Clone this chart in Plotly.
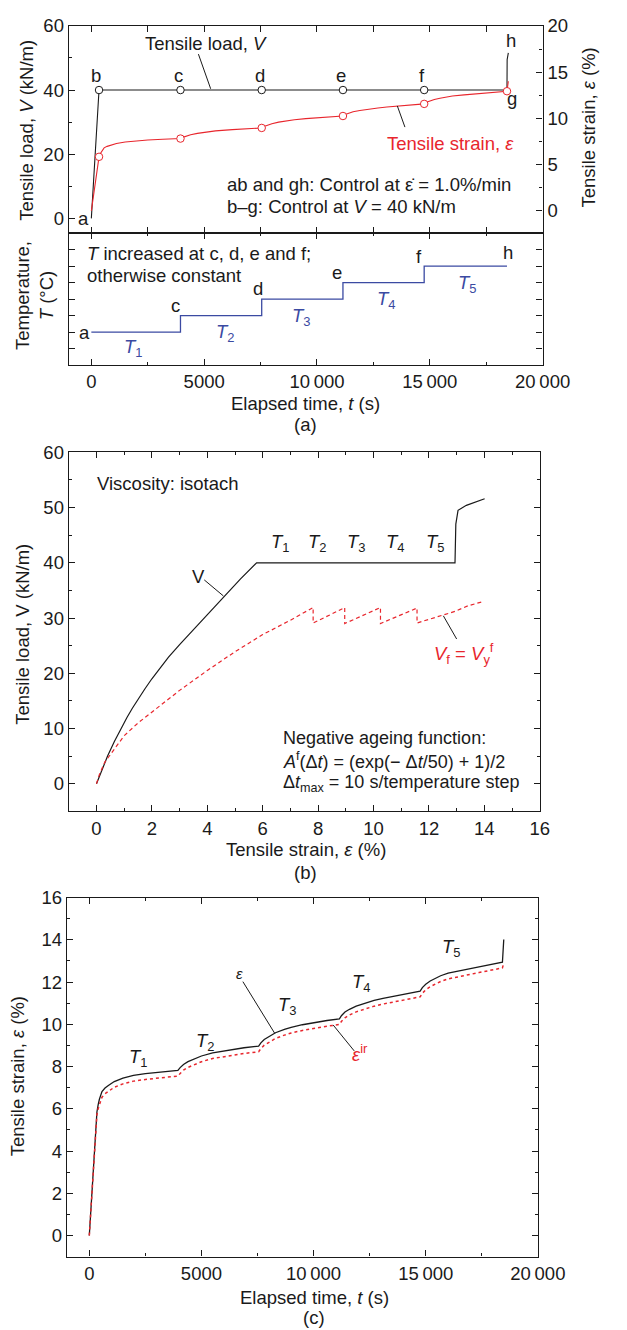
import plotly.graph_objects as go

# ---------------- data ----------------
TIME_EPS = [0, 340, 394, 450, 565, 700, 850, 1113, 1500, 1969, 2500, 3167, 3950,
            4050, 4200, 4400, 4700, 5000, 5500, 6249, 6900, 7550,
            7650, 7800, 8000, 8300, 8700, 9000, 9500, 10015, 10600, 11150,
            11250, 11400, 11600, 11900, 12241, 12700, 13097, 13953, 14750,
            14850, 15000, 15200, 15450, 15665, 16000, 16521, 17377, 18420, 18480]
EPS = [0, 5.85, 6.19, 6.45, 6.82, 6.98, 7.1, 7.29, 7.45, 7.58, 7.66, 7.74, 7.82,
       7.95, 8.10, 8.23, 8.38, 8.50, 8.65, 8.79, 8.89, 8.97,
       9.12, 9.28, 9.42, 9.60, 9.76, 9.86, 9.98, 10.08, 10.18, 10.26,
       10.42, 10.58, 10.71, 10.86, 10.99, 11.13, 11.23, 11.42, 11.57,
       11.74, 11.90, 12.05, 12.18, 12.30, 12.42, 12.54, 12.72, 12.94, 14.02]
EPS_IR = [0, 5.72, 6.0, 6.22, 6.55, 6.71, 6.83, 7.02, 7.18, 7.31, 7.39, 7.47, 7.55,
          7.67, 7.83, 7.96, 8.11, 8.23, 8.38, 8.52, 8.62, 8.70,
          8.85, 9.01, 9.15, 9.33, 9.49, 9.59, 9.71, 9.81, 9.91, 9.99,
          10.15, 10.31, 10.44, 10.59, 10.72, 10.86, 10.96, 11.15, 11.30,
          11.47, 11.63, 11.78, 11.91, 12.03, 12.15, 12.27, 12.45, 12.67, 12.9]

TIME_V = [0, 340, 18420, 18427, 18480]
LOAD_V = [0, 40, 40, 49.5, 51.6]

EVENT_LABELS = ["b", "c", "d", "e", "f", "g"]
EVENT_TIMES = [340, 3950, 7550, 11150, 14750, 18420]
EVENT_LOAD = [40, 40, 40, 40, 40, 40]
EVENT_STRAIN = [5.85, 7.82, 8.97, 10.26, 11.57, 12.94]

TEMP_TIMES = [0, 3950, 7550, 11150, 14750, 18420]
TEMP_LEVELS = [2, 3, 4, 5, 6, 6]

STRAIN_B = [0, 0.2, 0.4, 0.65, 0.9, 1.1, 1.3, 1.5, 1.75, 2.0, 2.3, 2.6, 3.0, 3.4, 4.0, 4.6, 5.2, 5.78,
            12.94, 12.97, 13.05, 13.35, 14.01]
LOAD_B = [0, 2.6, 5.0, 7.7, 10.2, 12.0, 13.7, 15.3, 17.2, 19.0, 21.0, 22.9, 25.2, 27.4, 30.7, 34.0, 37.1, 40.0,
          40.0, 47.0, 49.5, 50.4, 51.6]
STRAIN_F = [0, 0.1, 0.3, 0.65, 1.0, 1.5, 2.0, 3.0, 4.0, 5.0, 6.0, 7.0, 7.82, 7.82, 8.4, 8.96,
            8.96, 9.6, 10.25, 10.25, 10.9, 11.57, 11.57, 12.2, 12.94, 13.4, 13.9]
LOAD_F = [0, 1.6, 3.9, 6.4, 8.7, 11.0, 13.0, 16.9, 20.5, 23.9, 27.0, 29.6, 31.9, 29.1, 30.5, 31.9,
          29.0, 30.4, 31.9, 29.0, 30.4, 31.8, 29.1, 30.1, 31.2, 32.2, 32.9]

TIME_TICKS = [0, 5000, 10000, 15000, 20000]

# ---------------- styling ----------------
W, H = 627, 1330
FONT = "Liberation Sans, Arial, sans-serif"
FS = 18.5
TFS = 18.5
RED = "#e8262d"
BLUE = "#3b4aa2"
BLACK = "#1a1a1a"


def px(x):
    return x / W


def py(y):
    return 1 - y / H


fig = go.Figure()

fig.add_trace(go.Scatter(x=TIME_V, y=LOAD_V, mode="lines", line=dict(color=BLACK, width=1.1),
                         xaxis="x", yaxis="y", showlegend=False))
fig.add_trace(go.Scatter(x=TIME_EPS, y=EPS, mode="lines", line=dict(color=RED, width=1.1),
                         xaxis="x", yaxis="y2", showlegend=False))
fig.add_trace(go.Scatter(x=EVENT_TIMES[:-1], y=EVENT_LOAD[:-1], mode="markers",
                         marker=dict(symbol="circle", size=7.5, color="white",
                                     line=dict(color=BLACK, width=1)),
                         xaxis="x", yaxis="y", showlegend=False))
fig.add_trace(go.Scatter(x=EVENT_TIMES, y=EVENT_STRAIN, mode="markers",
                         marker=dict(symbol="circle", size=7.5, color="white",
                                     line=dict(color=RED, width=1)),
                         xaxis="x", yaxis="y2", showlegend=False))

fig.add_trace(go.Scatter(x=TEMP_TIMES, y=TEMP_LEVELS, mode="lines", line=dict(color=BLUE, width=1.3, shape="hv"),
                         xaxis="x2", yaxis="y3", showlegend=False))

fig.add_trace(go.Scatter(x=STRAIN_B, y=LOAD_B, mode="lines", line=dict(color=BLACK, width=1.2),
                         xaxis="x3", yaxis="y4", showlegend=False))
fig.add_trace(go.Scatter(x=STRAIN_F, y=LOAD_F, mode="lines", line=dict(color=RED, width=1.2, dash="4px,3px"),
                         xaxis="x3", yaxis="y4", showlegend=False))

fig.add_trace(go.Scatter(x=TIME_EPS, y=EPS, mode="lines", line=dict(color=BLACK, width=1.3),
                         xaxis="x4", yaxis="y5", showlegend=False))
fig.add_trace(go.Scatter(x=TIME_EPS, y=EPS_IR, mode="lines",
                         line=dict(color=RED, width=1.5, dash="dot"),
                         xaxis="x4", yaxis="y5", showlegend=False))

axis_common = dict(showgrid=False, zeroline=False, showline=True, linecolor=BLACK, linewidth=1.3,
                   ticks="inside", ticklen=6, tickwidth=1, tickcolor=BLACK,
                   tickfont=dict(family=FONT, size=TFS, color=BLACK), exponentformat="none")


def minor(d):
    return dict(ticks="inside", ticklen=3, dtick=d, tickcolor=BLACK, tickwidth=1)


yA = [py(224), py(15)]
yT = [py(357), py(224)]
yB = [py(807), py(445)]
yC = [py(1256), py(894)]

fig.update_layout(
    width=W, height=H, margin=dict(l=0, r=0, t=0, b=0),
    paper_bgcolor="white", plot_bgcolor="white",
    separators=".\u2009",
    font=dict(family=FONT, size=FS, color=BLACK),
    xaxis=dict(axis_common, domain=[px(72), px(568)], range=[-1000, 20000], anchor="y",
               tickvals=TIME_TICKS, showticklabels=False, mirror="allticks", minor=minor(2500)),
    yaxis=dict(axis_common, domain=yA, range=[-4.6, 60], anchor="x", dtick=20, mirror=True,
               minor=minor(10)),
    yaxis2=dict(axis_common, overlaying="y", side="right", range=[-2.4, 20], anchor="x", dtick=5,
                minor=minor(2.5)),
    xaxis2=dict(axis_common, domain=[px(72), px(568)], range=[-1000, 20000], anchor="y3",
                tickvals=TIME_TICKS, mirror="allticks", minor=minor(2500)),
    yaxis3=dict(axis_common, domain=yT, range=[0, 8], anchor="x2", dtick=1, showticklabels=False,
                mirror="allticks"),
    xaxis3=dict(axis_common, domain=[px(72), px(565)], range=[-1, 16], anchor="y4", dtick=2,
                mirror="allticks", minor=minor(1)),
    yaxis4=dict(axis_common, domain=yB, range=[-5, 60], anchor="x3", dtick=10, mirror="allticks",
                minor=minor(5)),
    xaxis4=dict(axis_common, domain=[px(70), px(563)], range=[-1000, 20000], anchor="y5",
                tickvals=TIME_TICKS, mirror="allticks", minor=minor(2500)),
    yaxis5=dict(axis_common, domain=yC, range=[-1, 16], anchor="x4", dtick=2, mirror="allticks",
                minor=minor(1)),
)

ann = []


def text(x, y, s, xref, yref, color=BLACK, xanchor="center", size=FS, yanchor="middle", angle=0):
    ann.append(dict(x=x, y=y, xref=xref, yref=yref, text=s, showarrow=False, xanchor=xanchor,
                    yanchor=yanchor, textangle=angle, font=dict(family=FONT, size=size, color=color)))


text(px(27), py(120), "Tensile load, <i>V</i> (kN/m)", "paper", "paper", angle=-90)
text(px(616), py(117), "Tensile strain, <i>ε</i> (%)", "paper", "paper", angle=-90)
text(px(36), py(287), "Temperature,<br><i>T</i> (°C)", "paper", "paper", angle=-90)
text(px(320), py(396), "Elapsed time, <i>t</i> (s)", "paper", "paper")
text(px(320), py(417), "(a)", "paper", "paper")
text(px(24), py(628), "Tensile load, V (kN/m)", "paper", "paper", angle=-90)
text(px(320), py(845), "Tensile strain, <i>ε</i> (%)", "paper", "paper")
text(px(320), py(869), "(b)", "paper", "paper")
text(px(18), py(1074), "Tensile strain, <i>ε</i> (%)", "paper", "paper", angle=-90)
text(px(329), py(1297), "Elapsed time, <i>t</i> (s)", "paper", "paper")
text(px(329), py(1317), "(c)", "paper", "paper")

text(5085, 54.4, "Tensile load, <i>V</i>", "x", "y")
text(15932, 7.34, "Tensile strain, <i>ε</i>", "x", "y2", color=RED)
text(5932, 10.6, "ab and gh: Control at ε̇ = 1.0%/min", "x", "y", xanchor="left")
text(5932, 3.6, "b–g: Control at <i>V</i> = 40 kN/m", "x", "y", xanchor="left")
text(-340, 0, "a", "x", "y")
for lab, t in zip(EVENT_LABELS[:-1], EVENT_TIMES[:-1]):
    text(t - 80 if lab != "b" else t - 120, 44.6, lab, "x", "y")
text(18650, 37.4, "g", "x", "y")
text(18600, 55.4, "h", "x", "y")

text(-300, 6.74, "<i>T</i> increased at c, d, e and f;", "x2", "y3", xanchor="left")
text(-300, 5.43, "otherwise constant", "x2", "y3", xanchor="left")
text(-310, 2, "a", "x2", "y3")
text(3729, 3.6, "c", "x2", "y3")
text(7406, 4.64, "d", "x2", "y3")
text(10880, 5.6, "e", "x2", "y3")
text(14525, 6.6, "f", "x2", "y3")
text(18473, 6.85, "h", "x2", "y3")
for i, (t, tv) in enumerate([(1864, 1.02), (5932, 1.93), (9321, 2.93), (13084, 3.93), (16660, 4.94)]):
    text(t, tv, f"<i>T</i><sub>{i+1}</sub>", "x2", "y3", color=BLUE)

text(-0.04, 54.4, "Viscosity: isotach", "x3", "y4", xanchor="left")
for i, e in enumerate([6.65, 7.97, 9.39, 10.8, 12.22]):
    text(e, 43.5, f"<i>T</i><sub>{i+1}</sub>", "x3", "y4")
text(3.69, 37.6, "V", "x3", "y4")
text(13.28, 23.5, "<i>V</i><sub>f</sub> = <i>V</i><sub>y</sub><sup>f</sup>", "x3", "y4", color=RED)
text(6.65, 8.3, "Negative ageing function:", "x3", "y4", xanchor="left", size=18)
text(6.65, 4.2, "<i>A</i><sup>f</sup>(Δ<i>t</i>) = (exp(− Δ<i>t</i>/50) + 1)/2", "x3", "y4", xanchor="left", size=18)
text(6.65, 0.0, "Δ<i>t</i><sub>max</sub> = 10 s/temperature step", "x3", "y4", xanchor="left", size=18)

for i, (t, v) in enumerate([(2174, 8.39), (5187, 9.18), (8817, 10.88), (12155, 11.94), (16144, 13.59)]):
    text(t, v, f"<i>T</i><sub>{i+1}</sub>", "x4", "y5")
text(6677, 12.4, "<i>ε</i>", "x4", "y5", size=15)
text(12070, 8.63, "<i>ε</i><sup>ir</sup>", "x4", "y5", color=RED)

fig.update_layout(annotations=ann)

shapes = [
    dict(type="line", xref="x", yref="y", x0=4745, y0=51.2, x1=5288, y1=40.4, line=dict(color=BLACK, width=1)),
    dict(type="line", xref="x", yref="y2", x0=13897, y0=9.06, x1=13560, y1=11.35, line=dict(color=BLACK, width=1)),
    dict(type="line", xref="x3", yref="y4", x0=3.89, y0=36.9, x1=4.58, y1=34.0, line=dict(color=BLACK, width=1)),
    dict(type="line", xref="x3", yref="y4", x0=13.0, y0=26.2, x1=12.52, y1=30.4, line=dict(color=BLACK, width=1)),
    dict(type="line", xref="x4", yref="y5", x0=6848, y0=12.02, x1=8269, y1=9.57, line=dict(color=BLACK, width=1)),
    dict(type="line", xref="x4", yref="y5", x0=11813, y0=8.74, x1=10871, y1=9.97, line=dict(color=BLACK, width=1)),
]
fig.update_layout(shapes=shapes)

fig.write_html("out.html")
